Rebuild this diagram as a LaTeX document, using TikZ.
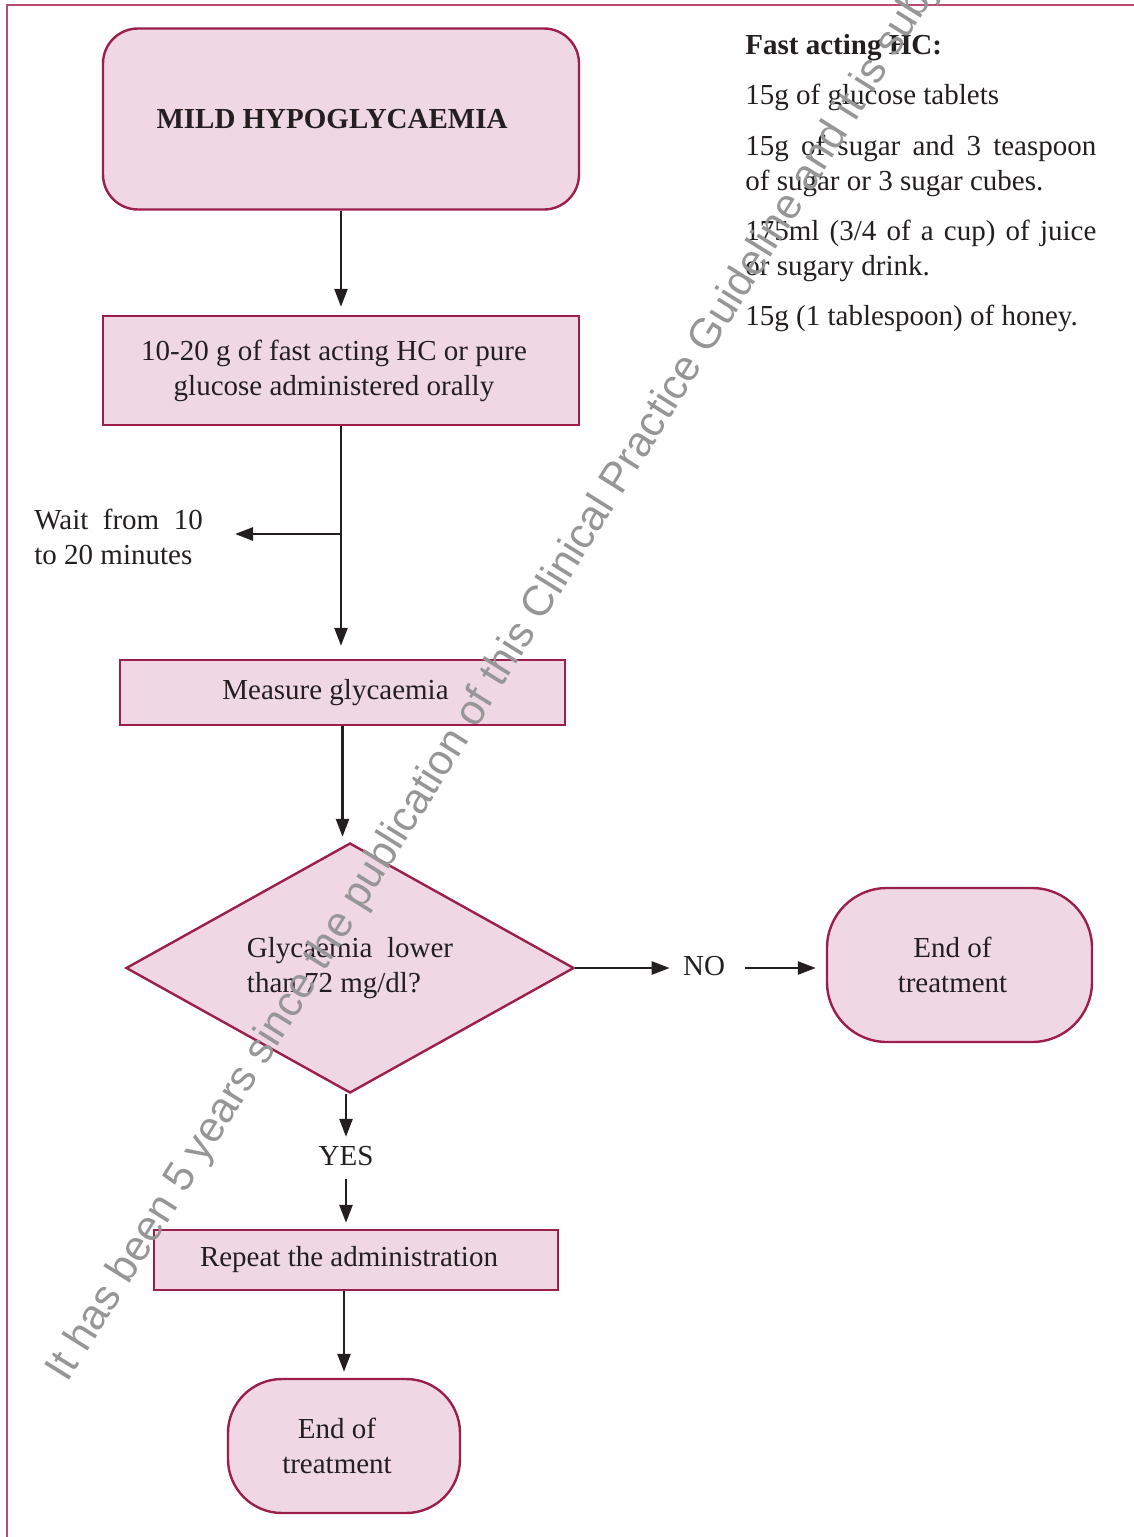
\documentclass[tikz,border=0pt]{standalone}
\usepackage{fontspec}
\setmainfont{Liberation Serif}
\newfontfamily\wmfont{Liberation Sans}
\usetikzlibrary{arrows.meta,shapes.geometric}
\definecolor{boxfill}{RGB}{239,216,228}
\definecolor{boxline}{RGB}{155,30,75}
\definecolor{inkc}{RGB}{35,31,32}
\definecolor{framec}{RGB}{185,75,115}
\definecolor{wmgray}{RGB}{150,150,150}
\newcommand\bodyfont{\fontsize{14.5}{17.5}\selectfont}
\newcommand\lsh{\hspace*{-7pt}}
\begin{document}
\begin{tikzpicture}[x=0.5pt,y=-0.5pt,
  txt/.style={font=\bodyfont, text=inkc, inner sep=0pt},
  box/.style={draw=boxline, fill=boxfill, line width=1.2pt, font=\bodyfont, text=inkc, align=center, inner sep=0pt},
  arr/.style={draw=inkc, line width=1.3pt, -{Triangle[length=9pt,width=6.5pt]}},
  side/.style={txt, anchor=base west},
  wm/.style={font=\wmfont\fontsize{21.3}{25}\selectfont, text=wmgray, inner sep=0pt}
]
\useasboundingbox (0,0) rectangle (1134,1537);
% frame
\draw[framec, line width=1pt] (1134,5) -- (7,5) -- (7,1537);

% flow nodes
\node[box, rounded corners=17.5pt, minimum width=238pt, minimum height=90.5pt,
      font=\bodyfont\bfseries] (start) at (341,119) {\hspace*{-9pt}MILD HYPOGLYCAEMIA};
\node[box, minimum width=238pt, minimum height=54.5pt] (admin) at (341,370.5)
      {\lsh 10-20 g of fast acting HC or pure\\\lsh glucose administered orally};
\node[box, minimum width=222.5pt, minimum height=32.5pt] (measure) at (342.5,692.5) {\lsh Measure glycaemia};
\node[box, diamond, aspect=1.8, minimum width=224pt, minimum height=125pt, align=left] (dec) at (350,968)
      {Glycaemia\ \ lower\\than 72 mg/dl?};
\node[box, rounded corners=30pt, minimum width=132.5pt, minimum height=77pt] (endR) at (959.5,965) {\lsh End of\\\lsh treatment};
\node[box, minimum width=202pt, minimum height=30pt] (rep) at (356,1260) {\lsh Repeat the administration};
\node[box, rounded corners=27pt, minimum width=116pt, minimum height=67pt] (endB) at (344,1446) {\lsh End of\\\lsh treatment};

% labels
\node[txt, anchor=west, align=left] (wait) at (34,537) {Wait\ \ from\ \ 10\\to 20 minutes};
\node[txt] (no) at (704,966) {NO};
\node[txt] (yes) at (346,1156) {YES};
\coordinate (waittip) at (235,534);

% connectors
\draw[arr, shorten >=4pt] (start.south) -- (admin.north);
\draw[arr, shorten >=6.5pt] (admin.south) -- (admin.south |- measure.north);
\draw[arr] (admin.south |- waittip) -- (waittip);
\draw[arr, shorten >=2.5pt] (measure.south) -- (measure.south |- dec.north);
\draw[arr, shorten >=6.5pt] (dec.east) -- (dec.east -| no.west);
\draw[arr, shorten <=10pt, shorten >=5pt] (dec.east -| no.east) -- (dec.east -| endR.west);
\draw[arr, shorten >=4.5pt] (yes.north |- dec.south) -- (yes.north);
\draw[arr, shorten <=6.5pt, shorten >=3pt] (yes.south) -- (yes.south |- rep.north);
\draw[arr, shorten >=3pt] (endB.north |- rep.south) -- (endB.north);

% side list
\node[side, font=\bodyfont\bfseries] (ht) at (745,54) {Fast acting HC:};
\node[side] (h1) at (745,104) {15g of glucose tablets};
\node[side] (h2a) at (745,155) {\makebox[175.5pt][s]{15g of sugar and 3 teaspoon}};
\node[side] (h2b) at (745,190) {of sugar or 3 sugar cubes.};
\node[side] (h3a) at (745,240) {\makebox[175.5pt][s]{175ml (3/4 of a cup) of juice}};
\node[side] (h3b) at (745,275) {or sugary drink.};
\node[side] (h4) at (745,325) {15g (1 tablespoon) of honey.};

% watermark
\begin{scope}
\clip (0,0) rectangle (1134,1537);
\node[wm, rotate=58, anchor=base west] (wmark) at (67,1384)
  {It has been 5 years since the publication of this Clinical Practice Guideline and it is subject to updating.};
\end{scope}
\end{tikzpicture}
\end{document}
